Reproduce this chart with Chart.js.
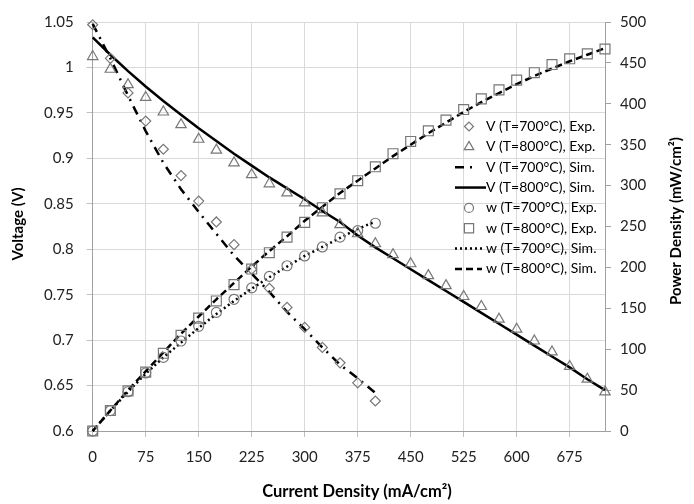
<!DOCTYPE html>
<html>
<head>
<meta charset="utf-8">
<script src="https://cdn.jsdelivr.net/npm/chart.js@4.4.1/dist/chart.umd.min.js"></script>
<style>
  html, body { margin: 0; padding: 0; background: #fff; }
  canvas { display: block; }
</style>
</head>
<body>
<canvas id="myChart" width="694" height="504"></canvas>
<script>
// current density (mA/cm2)
var current700 = [0, 25, 50, 75, 100, 125, 150, 175, 200, 225, 250, 275, 300, 325, 350, 375, 400];
var current800 = [0, 25, 50, 75, 100, 125, 150, 175, 200, 225, 250, 275, 300, 325, 350, 375, 400,
  425, 450, 475, 500, 525, 550, 575, 600, 625, 650, 675, 700, 725];

// voltage (V)
var v700Exp = [1.047, 1.010, 0.972, 0.941, 0.910, 0.881, 0.853, 0.830, 0.805, 0.778, 0.757, 0.736, 0.714, 0.692, 0.675, 0.653, 0.633];
var v800Exp = [1.012, 0.998, 0.981, 0.967, 0.951, 0.937, 0.921, 0.909, 0.895, 0.882, 0.872, 0.862, 0.851, 0.840, 0.827,
  0.817, 0.806, 0.794, 0.784, 0.771, 0.760, 0.748, 0.737, 0.723, 0.712, 0.699, 0.687, 0.671, 0.657, 0.643];
var v700Sim = [1.048, 1.010, 0.969, 0.930, 0.895, 0.866, 0.841, 0.817, 0.793, 0.773, 0.753, 0.731, 0.712, 0.692, 0.673, 0.658, 0.642];
var v800Sim = [1.033, 1.014, 0.996, 0.979, 0.963, 0.948, 0.933, 0.919, 0.905, 0.892, 0.879, 0.867, 0.855, 0.842, 0.830,
  0.815, 0.802, 0.790, 0.778, 0.766, 0.754, 0.742, 0.730, 0.718, 0.706, 0.694, 0.682, 0.670, 0.657, 0.645];

// power density (mW/cm2)
var w700Exp = [0, 25, 48, 71, 90, 110, 128, 145, 161, 175, 189, 202, 214, 225, 237, 245, 254];
var w800Exp = [0, 25, 49, 72, 95, 117, 138, 159, 179, 198, 218, 237, 255, 273, 290, 306, 323, 339, 354, 367,
  380, 393, 406, 417, 429, 438, 448, 455, 461, 467];
var w700Sim = [0, 25, 48, 70, 90, 108, 126, 143, 159, 174, 188, 201, 214, 225, 236, 247, 256];
var w800Sim = [0, 25, 50, 73, 96, 119, 140, 161, 181, 201, 220, 238, 257, 274, 291, 306, 321, 336, 350, 364,
  377, 390, 402, 413, 424, 434, 443, 452, 460, 468];

var labels = ["V (T=700°C), Exp.", "V (T=800°C), Exp.", "V (T=700°C), Sim.", "V (T=800°C), Sim.",
  "w (T=700°C), Exp.", "w (T=800°C), Exp.", "w (T=700°C), Sim.", "w (T=800°C), Sim."];
var xTitle = "Current Density (mA/cm²)";
var yTitleV = "Voltage (V)";
var yTitleW = "Power Density (mW/cm²)";

var FONT = 'Lato, "Open Sans", sans-serif';
var MARK = '#777777';

var pts = (xs, ys) => xs.map((x, i) => ({ x: x, y: ys[i] }));

var expSet = (label, xs, ys, axis, style, r) => ({
  label: label, data: pts(xs, ys), yAxisID: axis, showLine: false, clip: false,
  pointStyle: style, pointRadius: r, pointHoverRadius: r,
  pointBorderColor: MARK, pointBackgroundColor: 'rgba(0,0,0,0)', pointBorderWidth: 1.2
});
var simSet = (label, xs, ys, axis, dash) => ({
  label: label, data: pts(xs, ys), yAxisID: axis, showLine: true, clip: false,
  borderColor: '#000', borderWidth: 2.5, borderDash: dash, pointRadius: 0, pointHoverRadius: 0
});

var datasets = [
  expSet(labels[0], current700, v700Exp, 'yV', 'rectRot', 5),
  expSet(labels[1], current800, v800Exp, 'yV', 'triangle', 6),
  simSet(labels[2], current700, v700Sim, 'yV', [9, 6, 2, 6]),
  simSet(labels[3], current800, v800Sim, 'yV', []),
  expSet(labels[4], current700, w700Exp, 'yW', 'circle', 5),
  expSet(labels[5], current800, w800Exp, 'yW', 'rect', 7),
  simSet(labels[6], current700, w700Sim, 'yW', [2, 3]),
  simSet(labels[7], current800, w800Sim, 'yW', [7, 4])
];

// titles + legend inside the plot (transparent like the original)
var extras = {
  id: 'extras',
  afterDraw: function (chart) {
    var ctx = chart.ctx;
    ctx.save();
    ctx.fillStyle = '#000';
    ctx.textAlign = 'center';
    ctx.textBaseline = 'middle';
    ctx.font = 'bold 16.5px ' + FONT;
    ctx.fillText(xTitle, 357, 492);
    ctx.font = 'bold 15px ' + FONT;
    ctx.save(); ctx.translate(18, 224); ctx.rotate(-Math.PI / 2); ctx.fillText(yTitleV, 0, 0); ctx.restore();
    ctx.save(); ctx.translate(676, 221); ctx.rotate(-Math.PI / 2); ctx.fillText(yTitleW, 0, 0); ctx.restore();

    var legR = { rectRot: 4.5, triangle: 5.5, circle: 4.5, rect: 6.5 };
    ctx.font = '14px ' + FONT;
    ctx.textAlign = 'left';
    chart.data.datasets.forEach(function (ds, i) {
      var y = 126.5 + i * 20.35;
      if (ds.showLine) {
        ctx.save();
        ctx.strokeStyle = '#000';
        ctx.lineWidth = ds.borderWidth;
        ctx.setLineDash(ds.borderDash);
        ctx.beginPath();
        var end = ds.borderDash.length === 0 ? 486 : (ds.borderDash.length === 4 ? 474 : 482);
        ctx.moveTo(455, y);
        ctx.lineTo(end, y);
        ctx.stroke();
        ctx.restore();
      } else {
        ctx.save();
        ctx.strokeStyle = MARK;
        ctx.fillStyle = 'rgba(0,0,0,0)';
        ctx.lineWidth = 1.2;
        Chart.helpers.drawPoint(ctx, { pointStyle: ds.pointStyle, radius: legR[ds.pointStyle], rotation: 0, borderWidth: 1.2 }, 469, y);
        ctx.restore();
      }
      ctx.fillStyle = '#000';
      ctx.fillText(ds.label, 486, y);
    });
    ctx.restore();
  }
};

var tickFont = { family: FONT, size: 15 };

var chart = new Chart(document.getElementById('myChart').getContext('2d'), {
  type: 'scatter',
  data: { datasets: datasets },
  plugins: [extras],
  options: {
    responsive: false,
    animation: false,
    devicePixelRatio: 1,
    layout: { padding: { top: 15, left: 0, right: 0, bottom: 0 } },
    plugins: {
      legend: { display: false },
      tooltip: { enabled: false }
    },
    scales: {
      x: {
        type: 'linear', position: 'bottom', min: 0, max: 725,
        ticks: { stepSize: 75, includeBounds: false, padding: 11, font: tickFont, color: '#222', maxRotation: 0 },
        grid: { color: '#d9d9d9', tickLength: 6, tickColor: '#bfbfbf' },
        border: { color: '#a0a0a0' },
        afterFit: (s) => { s.height = 73; }
      },
      yV: {
        type: 'linear', position: 'left', min: 0.6, max: 1.05,
        ticks: { stepSize: 0.05, padding: 13, font: tickFont, color: '#222', callback: (v) => String(+v.toFixed(2)) },
        grid: { color: '#d9d9d9', tickLength: 6, tickColor: '#bfbfbf' },
        border: { color: '#a0a0a0' },
        afterFit: (s) => { s.width = 92.7; }
      },
      yW: {
        type: 'linear', position: 'right', min: 0, max: 500,
        ticks: { stepSize: 50, padding: 9, font: tickFont, color: '#222' },
        grid: { drawOnChartArea: false, tickLength: 6, tickColor: '#a0a0a0' },
        border: { color: '#a0a0a0' },
        afterFit: (s) => { s.width = 89; }
      }
    }
  }
});
</script>
</body>
</html>
